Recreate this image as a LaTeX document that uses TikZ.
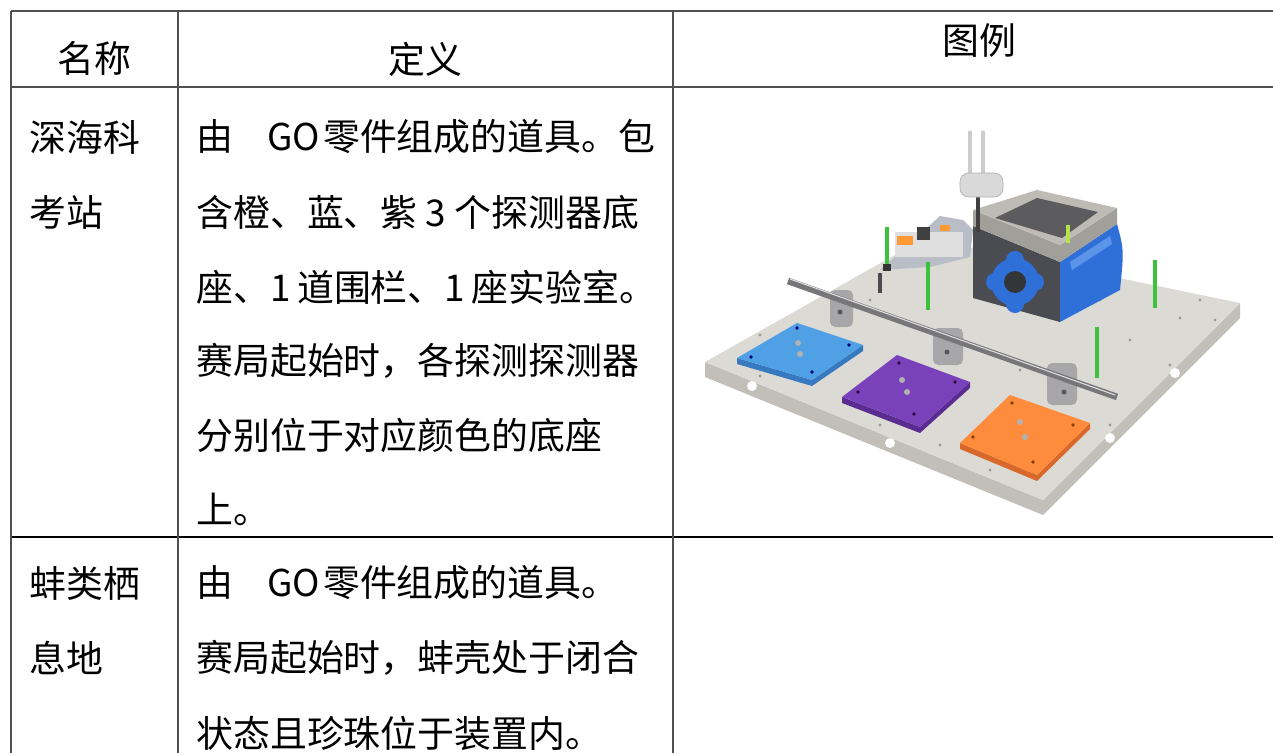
\documentclass[tikz,border=0pt]{standalone}
\usepackage{fontspec}
\setmainfont{Noto Sans CJK SC}
\definecolor{tableline}{HTML}{505050}
\definecolor{platetop}{HTML}{DCDAD4}
\definecolor{plateside}{HTML}{C2BFB8}
\definecolor{platehole}{HTML}{9C9A95}
\definecolor{padblue}{HTML}{4FA0E4}
\definecolor{padblueside}{HTML}{3779BE}
\definecolor{padpurple}{HTML}{7A42BA}
\definecolor{padpurpleside}{HTML}{5A2C92}
\definecolor{padorange}{HTML}{FF8B3C}
\definecolor{padorangeside}{HTML}{D9692A}
\definecolor{railgray}{HTML}{77777A}
\definecolor{bracketgray}{HTML}{A7A7A9}
\definecolor{rampgray}{HTML}{B9BDC5}
\definecolor{labtop}{HTML}{BEBBB5}
\definecolor{labgrid}{HTML}{5C5C5E}
\definecolor{labside}{HTML}{4A4C52}
\definecolor{labblue}{HTML}{2F6FD8}
\definecolor{labbluelight}{HTML}{5C94EA}
\definecolor{postgreen}{HTML}{3CC23C}
\definecolor{postlime}{HTML}{B8E24A}

\begin{document}
\begin{tikzpicture}[x=0.02cm,y=-0.02cm,
    rule/.style={draw=tableline,line width=1.1pt},
    cell/.style={anchor=west,inner sep=0pt,font=\fontsize{21pt}{21pt}\selectfont},
    head/.style={inner sep=0pt,font=\fontsize{21pt}{21pt}\selectfont},
    post/.style={draw=postgreen,line width=2.8pt},
    hole/.style={fill=platehole}]
\useasboundingbox (0,0) rectangle (1273,753);
\fill[white] (0,0) rectangle (1273,753);

% table
\draw[rule] (11,11) -- (1273,11);
    \draw[rule] (11,87) -- (1273,87);
    \draw[black,line width=0.6pt] (11,537) -- (1273,537);
    \draw[rule] (11,11) -- (11,753);
    \draw[rule] (178,11) -- (178,753);
    \draw[rule] (673,11) -- (673,753);

\node[head] (hname) at (94.5,58) {名称};
    \node[head] (hdef) at (425,59) {定义};
    \node[head] (hpic) at (979,41) {图例};

\node[cell] (st1) at (29,137) {深海科};
    \node[cell] (st2) at (29,212) {考站};
    \node[cell] (sd1) at (196,137) {由\hspace{0.68cm}\makebox[1.12cm][l]{GO}零件组成的道具。包};
    \node[cell] (sd2) at (196,212) {含橙、蓝、紫\makebox[0.74cm]{3}个探测器底};
    \node[cell] (sd3) at (196,287) {座、\makebox[0.54cm][l]{1}道围栏、\makebox[0.54cm][l]{1}座实验室。};
    \node[cell] (sd4) at (196,361) {赛局起始时，各探测探测器};
    \node[cell] (sd5) at (196,435) {分别位于对应颜色的底座};
    \node[cell] (sd6) at (196,509) {上。};

\node[cell] (ht1) at (29,583) {蚌类栖};
    \node[cell] (ht2) at (29,658) {息地};
    \node[cell] (hd1) at (196,583) {由\hspace{0.68cm}\makebox[1.12cm][l]{GO}零件组成的道具。};
    \node[cell] (hd2) at (196,658) {赛局起始时，蚌壳处于闭合};
    \node[cell] (hd3) at (196,733) {状态且珍珠位于装置内。};

% base plate
\fill[plateside] (705,362) -- (1043,500) -- (1240,303) -- (1240,318) -- (1043,515) -- (705,377) -- cycle;
    \fill[platetop] (705,362) -- (925,238) -- (1240,303) -- (1043,500) -- cycle;
    \fill[white] (752,386) circle (5);
    \fill[white] (890,443) circle (5);
    \fill[white] (1175,373) circle (5);
    \fill[white] (1110,438) circle (5);

\fill[hole] (760,376) circle (1.6);
    \fill[hole] (880,425) circle (1.6);
    \fill[hole] (990,470) circle (1.6);
    \fill[hole] (1110,425) circle (1.6);
    \fill[hole] (1170,365) circle (1.6);
    \fill[hole] (1215,320) circle (1.6);
    \fill[hole] (880,378) circle (1.6);
    \fill[hole] (990,420) circle (1.6);
    \fill[hole] (1020,370) circle (1.6);
    \fill[hole] (1130,340) circle (1.6);
    \fill[hole] (1180,318) circle (1.6);
    \fill[hole] (1100,300) circle (1.6);
    \fill[hole] (870,300) circle (1.6);
    \fill[hole] (760,335) circle (1.6);
    \fill[hole] (1200,300) circle (1.6);
    \fill[hole] (940,445) circle (1.6);

% probe bases
\fill[padblueside] (737,358) -- (812,380) -- (863,345) -- (863,351) -- (812,386) -- (737,364) -- cycle;
    \fill[padblue] (797,323) -- (863,345) -- (812,380) -- (737,358) -- cycle;
    \fill[padpurpleside] (842,397) -- (920,427) -- (970,382) -- (970,388) -- (920,433) -- (842,403) -- cycle;
    \fill[padpurple] (897,355) -- (970,382) -- (920,427) -- (842,397) -- cycle;
    \fill[padorangeside] (960,443) -- (1037,475) -- (1090,423) -- (1090,429) -- (1037,481) -- (960,449) -- cycle;
    \fill[padorange] (1010,395) -- (1090,423) -- (1037,475) -- (960,443) -- cycle;

\fill[gray!60] (798,343) circle (3);
    \fill[gray!60] (800,354) circle (3);
    \fill[blue!50!black] (797,328) circle (1.8);
    \fill[blue!50!black] (849,345) circle (1.8);
    \fill[blue!50!black] (812,372) circle (1.8);
    \fill[blue!50!black] (751,357) circle (1.8);
    \fill[gray!60] (902,380) circle (3);
    \fill[gray!60] (907,392) circle (3);
    \fill[violet!40!black] (899,363) circle (1.8);
    \fill[violet!40!black] (955,382) circle (1.8);
    \fill[violet!40!black] (914,414) circle (1.8);
    \fill[violet!40!black] (858,392) circle (1.8);
    \fill[gray!60] (1020,422) circle (3);
    \fill[gray!60] (1025,437) circle (3);
    \fill[orange!50!black] (1012,403) circle (1.8);
    \fill[orange!50!black] (1073,425) circle (1.8);
    \fill[orange!50!black] (1033,462) circle (1.8);
    \fill[orange!50!black] (973,437) circle (1.8);

% fence
\fill[bracketgray, rounded corners=3] (830,290) rectangle (853,327);
    \fill[bracketgray, rounded corners=3] (933,328) rectangle (963,365);
    \fill[bracketgray, rounded corners=3] (1047,363) rectangle (1077,405);
    \fill[gray!70!black] (840,312) circle (2.5);
    \fill[gray!70!black] (947,352) circle (2.5);
    \fill[gray!70!black] (1064,392) circle (2.5);
    \draw[railgray, line width=3.8pt] (788,281) -- (1117,397);
    \draw[gray!25, line width=0.6pt] (790,279) -- (1115,395);

% lab ramp
\fill[rampgray] (880,270) -- (940,216) -- (963,220) -- (973,230) -- (970,257) -- (930,267) -- cycle;
    \fill[gray!25] (895,232) rectangle (963,257);
    \fill[orange!80] (897,236) rectangle (913,245);
    \fill[black!75] (917,227) rectangle (930,240);
    \fill[orange!80] (940,225) rectangle (950,231);
    \draw[labside, line width=2.5pt] (880,273) -- (880,293);

% posts behind the lab
\draw[post] (887,227) -- (887,267);
    \fill[black!80] (883,264) rectangle (891,271);
    \draw[post] (1155,260) -- (1155,308);

% lab
\fill[labside] (973,226) -- (1060,262) -- (1060,322) -- (973,298) -- cycle;
    \fill[labblue] (1060,262) -- (1117,224) .. controls (1124,250) .. (1120,290) -- (1060,322) -- cycle;
    \fill[labbluelight] (1070,262) -- (1110,236) -- (1112,244) -- (1072,270) -- cycle;
    \fill[labtop!85!black] (973,210) -- (1060,245) -- (1117,208) -- (1117,224) -- (1060,262) -- (973,226) -- cycle;
    \fill[labtop] (973,210) -- (1037,190) -- (1117,208) -- (1060,245) -- cycle;
    \fill[labgrid] (995,218) -- (1037,198) -- (1098,212) -- (1062,238) -- cycle;
    \fill[labblue] (1015,282) circle (24);
    \fill[labblue] (995,282) circle (9);
    \fill[labblue] (1035,282) circle (9);
    \fill[labblue] (1015,260) circle (9);
    \fill[labblue] (1015,304) circle (9);
    \fill[labside!70!black] (1015,282) circle (11);
    \draw[postlime, line width=2.8pt] (1068,225) -- (1068,243);

% front post
\draw[post] (928,262) -- (928,310);
    \draw[post] (1097,327) -- (1097,378);

% antenna
\draw[gray!40, line width=1.8pt, line cap=round] (970,132) -- (970,180);
    \draw[gray!40, line width=1.8pt, line cap=round] (983,132) -- (983,180);
    \draw[black!75, line width=2.2pt] (978,195) -- (978,232);
    \fill[gray!30, draw=gray!60, rounded corners=5] (960,173) rectangle (1003,197);
\end{tikzpicture}
\end{document}
